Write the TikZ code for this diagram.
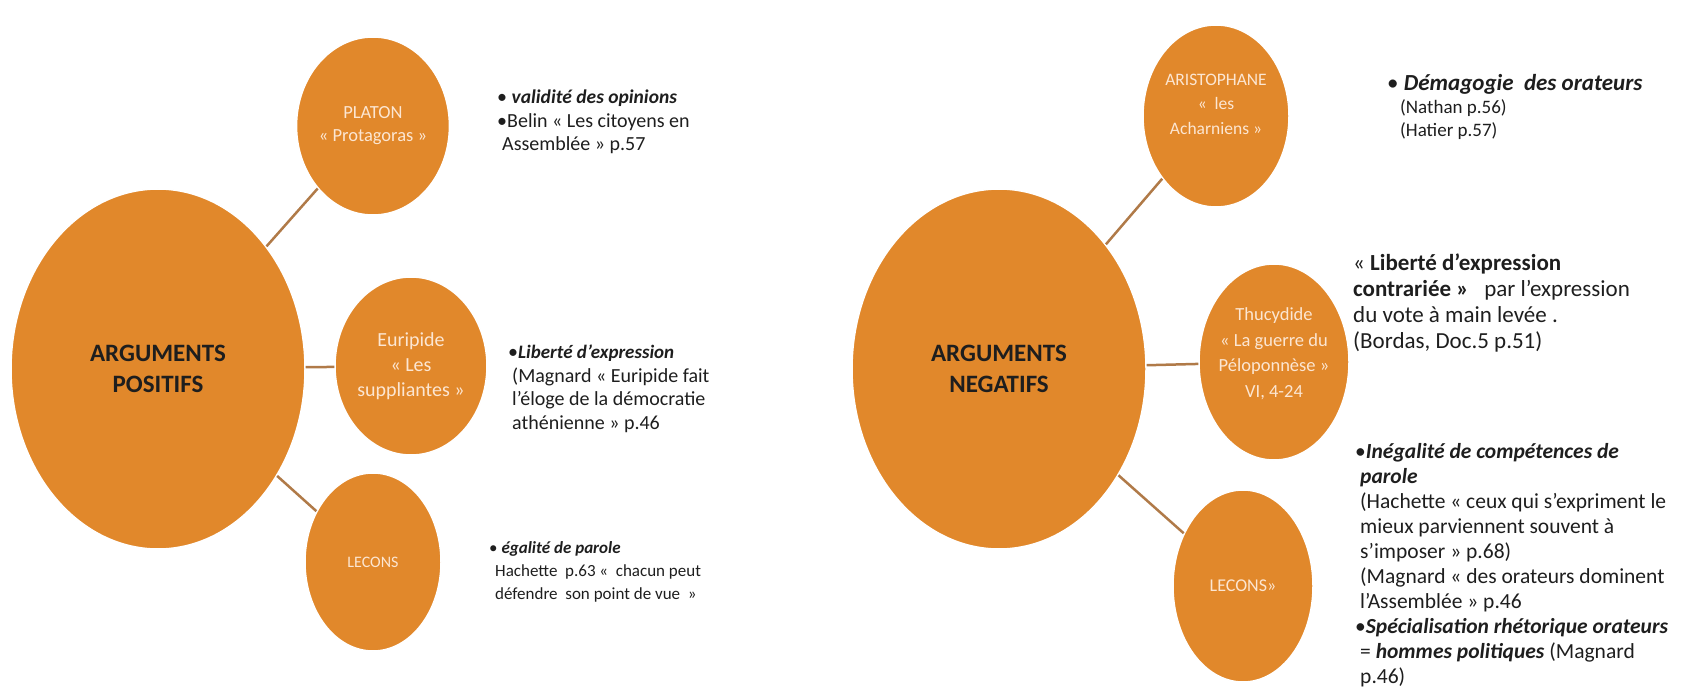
\documentclass[tikz,border=0pt]{standalone}
\usepackage{fontspec}
\setmainfont{Carlito}
\usetikzlibrary{shapes.geometric}
\definecolor{orfill}{HTML}{E1882B}
\definecolor{ortext}{HTML}{FCE6D2}
\definecolor{conncol}{HTML}{B07A48}
\definecolor{darktxt}{HTML}{1E1E1E}
\begin{document}
\begin{tikzpicture}[x=1pt,y=-1pt,
  bigc/.style={ellipse,fill=orfill,draw=white,line width=1.5pt,minimum width=294pt,minimum height=360pt,inner sep=0pt,align=center,text=darktxt,font=\fontsize{25}{31}\selectfont\bfseries},
  smallc/.style={ellipse,fill=orfill,draw=white,line width=1.5pt,minimum width=136pt,minimum height=178pt,inner sep=0pt,align=center,text=ortext,font=\fontsize{18.5}{23}\selectfont},
  ctext/.style={inner sep=0pt,align=center,text=ortext},
  conn/.style={draw=conncol,line width=2.5pt},
  txt/.style={anchor=west,align=left,inner sep=0pt,text=darktxt},
  txtA/.style={txt,font=\fontsize{20}{23.5}\selectfont},
  txtB/.style={txt,font=\fontsize{17}{23}\selectfont},
  txtC/.style={txt,font=\fontsize{21.5}{25}\selectfont}]
\useasboundingbox (0,0) rectangle (1695,687);

% left
\node[bigc] (pos) at (158,369) {ARGUMENTS\\POSITIFS};
\node[smallc] (platon) at (373,126) {PLATON\\« Protagoras »};
\node[smallc,font=\fontsize{20}{25}\selectfont] (euri) at (411,366) {Euripide\\« Les\\suppliantes »};
\node[smallc,font=\fontsize{16}{23}\selectfont] (lecL) at (373,562) {LECONS};
\draw[conn] (pos) -- (platon);
\draw[conn] (pos) -- (euri);
\draw[conn] (pos) -- (lecL);

\node[txtA] (tplaton) at (497,122) {• {\fontsize{19.5}{23.5}\selectfont\textbf{\textit{validité des opinions}}}\\•Belin « Les citoyens en\\\hspace*{5pt}Assemblée » p.57};
\node[txtA] (teuri) at (508,389) {•{\fontsize{19}{23.5}\selectfont\textbf{\textit{Liberté d’expression}}}\\\hspace*{4pt}(Magnard « Euripide fait\\\hspace*{4pt}l’éloge de la démocratie\\\hspace*{4pt}athénienne » p.46};
\node[txtB] (tlecL) at (489,572) {• \textbf{\textit{égalité de parole}}\\\hspace*{6pt}Hachette~ p.63 «~~chacun peut\\\hspace*{6pt}défendre~ son point de vue~ »};

% right
\node[bigc] (neg) at (999,369) {ARGUMENTS\\NEGATIFS};
\node[smallc,minimum width=146pt,minimum height=182pt] (aris) at (1216,116) {};
\node[ctext,font=\fontsize{17.5}{24.5}\selectfont] (arist) at ([yshift=12pt]aris.center) {ARISTOPHANE\\«~~les\\Acharniens »};
\node[smallc,minimum width=150pt,minimum height=196pt] (thuc) at (1274,362) {};
\node[ctext,font=\fontsize{18.5}{25.5}\selectfont] (thuct) at ([yshift=8pt]thuc.center) {Thucydide\\« La guerre du\\Péloponnèse »\\VI, 4-24};
\node[smallc,minimum width=140pt,minimum height=192pt,font=\fontsize{18}{23}\selectfont] (lecR) at (1243,586) {LECONS»};
\draw[conn] (neg) -- (aris);
\draw[conn] (neg) -- (thuc);
\draw[conn] (neg) -- (lecR);

\node[txt,font=\fontsize{19}{23}\selectfont] (taris) at (1387,107) {{\fontsize{23}{23}\selectfont• \textbf{\textit{Démagogie~ des orateurs}}}\\\hspace*{13pt}(Nathan p.56)\\\hspace*{13pt}(Hatier p.57)};
\node[txt,font=\fontsize{23}{26}\selectfont] (tthuc) at (1353,303) {« \textbf{Liberté d’expression}\\\textbf{contrariée »}~~ par l’expression\\du vote à main levée .\\(Bordas, Doc.5 p.51)};
\node[txtC,anchor=south west] (tlecR) at (1355,687) {•\textbf{\textit{Inégalité de compétences de}}\\\hspace*{5pt}\textbf{\textit{parole}}\\\hspace*{5pt}(Hachette « ceux qui s’expriment le\\\hspace*{5pt}mieux parviennent souvent à\\\hspace*{5pt}s’imposer » p.68)\\\hspace*{5pt}(Magnard « des orateurs dominent\\\hspace*{5pt}l’Assemblée » p.46\\•\textbf{\textit{Spécialisation rhétorique orateurs}}\\\hspace*{5pt}= \textbf{\textit{hommes politiques}} (Magnard\\\hspace*{5pt}p.46)};
\end{tikzpicture}
\end{document}
